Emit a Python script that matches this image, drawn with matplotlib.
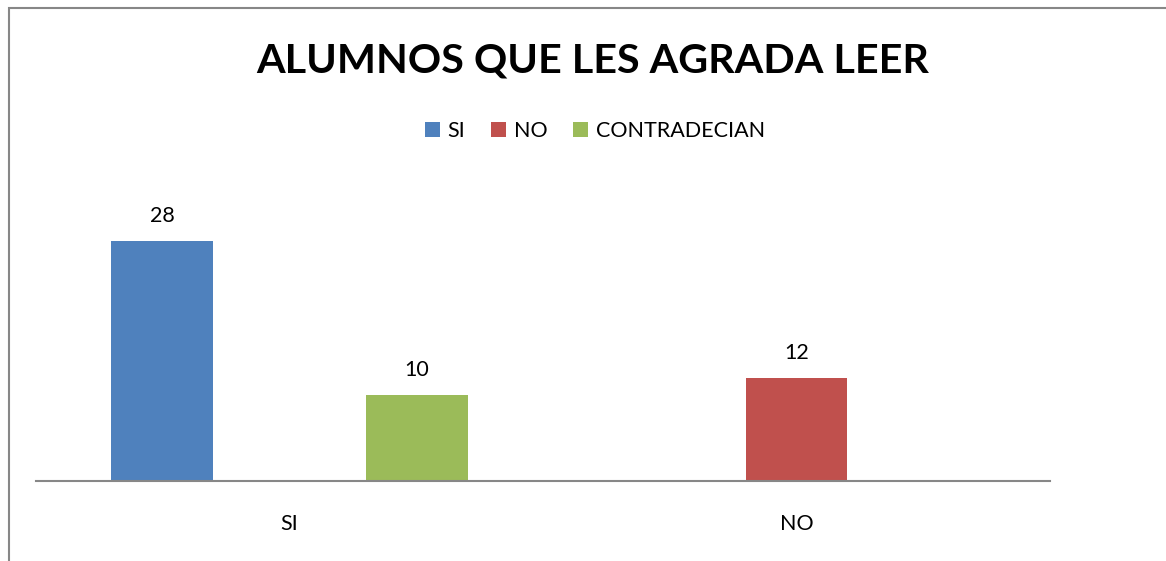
import matplotlib
matplotlib.use('agg')
import matplotlib.pyplot as plt
from matplotlib.patches import Rectangle
import numpy as np

plt.rcParams["font.family"] = ["Lato", "DejaVu Sans"]

# Data
categories = ["SI", "NO"]
series_names = ["SI", "NO", "CONTRADECIAN"]
values_si = [28, np.nan]
values_no = [np.nan, 12]
values_contra = [10, np.nan]
colors = ["#4F81BD", "#C0504D", "#9BBB59"]

W, H = 1166, 561
fig = plt.figure(figsize=(W / 100, H / 100), dpi=100)

# chart border (only left and top edges visible in the picture)
fig.patches.append(Rectangle((8.5 / W, -0.1), 1.2, 1 - 7.5 / H + 0.1,
                             transform=fig.transFigure, fill=False,
                             edgecolor="#878787", linewidth=1.5))

# plot area in pixels: x 36..1050, y bottom 481
ymax = 35
px_per_unit = 240 / 28
top_px = 481 - ymax * px_per_unit
ax = fig.add_axes([36 / W, 1 - 481 / H, (1050 - 36) / W, (481 - top_px) / H])

x = np.arange(len(categories))
step = 0.2515
width = 0.201
all_vals = [values_si, values_no, values_contra]
for k in range(3):
    pos = x + (k - 1) * step
    bars = ax.bar(pos, all_vals[k], width=width, color=colors[k],
                  label=series_names[k])
    for p, v in zip(pos, all_vals[k]):
        if not np.isnan(v):
            ax.text(p, v + 1.75, str(int(v)), ha="center", va="bottom",
                    fontsize=15.5)

ax.set_xlim(-0.5, 1.5)
ax.set_ylim(0, ymax)
for s in ["top", "right", "left"]:
    ax.spines[s].set_visible(False)
ax.spines["bottom"].set_color("#878787")
ax.spines["bottom"].set_linewidth(1.5)
ax.set_yticks([])
ax.set_xticks(x)
ax.set_xticklabels(categories, fontsize=15.5)
ax.tick_params(axis="x", length=0, pad=24)

fig.text(593 / W, 1 - 61 / H, "ALUMNOS QUE LES AGRADA LEER", ha="center",
         va="center", fontsize=29.7, fontweight="bold")

fig.legend(loc="center", bbox_to_anchor=(595 / W, 1 - 131 / H), ncol=3,
           frameon=False, fontsize=15.5, handlelength=0.7, handleheight=0.7,
           handletextpad=0.35, columnspacing=1.2)

fig.savefig("out.png", dpi=100)
